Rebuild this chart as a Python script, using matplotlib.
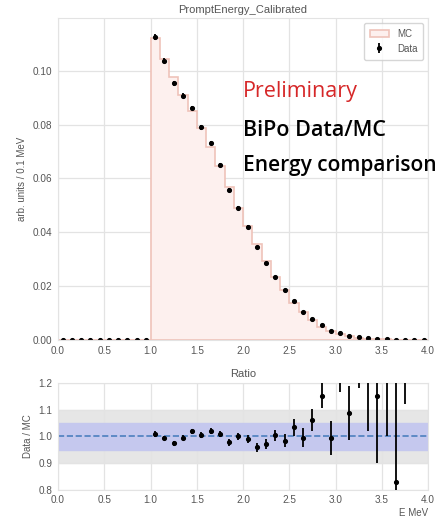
import numpy as np
import matplotlib
matplotlib.use("Agg")
import matplotlib.pyplot as plt

plt.rcParams['font.family'] = ['Liberation Sans', 'DejaVu Sans']

# 0.1 MeV bins from 0 to 4 MeV
edges = np.round(np.arange(0, 4.01, 0.1), 2)
centers = edges[:-1] + 0.05

# MC (normalised), zero below 1 MeV
mc = [0.0] * 10 + [
    0.1120, 0.1045, 0.0978, 0.0910, 0.0850, 0.0787, 0.0716, 0.0645, 0.0568, 0.0491,
    0.0425, 0.0358, 0.0294, 0.0233, 0.0187, 0.0138, 0.0102, 0.0073, 0.0049, 0.0033,
    0.0021, 0.0013, 0.0008, 0.0005, 0.0003, 0.0002, 0.0001, 0.00005, 0.0, 0.0]

data = [0.0] * 10 + [
    0.1124, 0.1037, 0.0953, 0.0907, 0.0862, 0.0790, 0.0731, 0.0651, 0.0556, 0.0491,
    0.0421, 0.0344, 0.0285, 0.0234, 0.0184, 0.0143, 0.0102, 0.0078, 0.0056, 0.0033,
    0.0026, 0.0014, 0.0010, 0.0006, 0.0003, 0.0003, 0.0001, 0.0001, 0.0, 0.0]

ratio = [np.nan] * 10 + [
    1.009, 0.994, 0.975, 0.996, 1.019, 1.004, 1.021, 1.010, 0.978, 1.000,
    0.991, 0.960, 0.971, 1.004, 0.984, 1.034, 0.996, 1.062, 1.152, 0.994,
    1.250, 1.088, 1.300, 1.250, 1.152, 1.400, 0.831, 2.000, np.nan, np.nan]

ratio_err = [0.0] * 10 + [
    0.010, 0.009, 0.009, 0.010, 0.010, 0.011, 0.011, 0.012, 0.012, 0.013,
    0.014, 0.017, 0.018, 0.022, 0.025, 0.031, 0.037, 0.040, 0.047, 0.065,
    0.085, 0.100, 0.120, 0.230, 0.250, 0.400, 0.500, 0.880, 0.0, 0.0]

data_err = np.array(ratio_err) * np.array(mc)

grid_c = '#e3e3e3'
tick_c = '#555555'

fig = plt.figure(figsize=(4.46, 5.19), dpi=100)
ax = fig.add_axes([0.130, 0.345, 0.830, 0.620])
axr = fig.add_axes([0.130, 0.056, 0.830, 0.206])

for a in (ax, axr):
    a.set_axisbelow(True)
    a.grid(True, color=grid_c, lw=0.9)
    for s in a.spines.values():
        s.set_color(grid_c)
    a.tick_params(length=0, labelsize=7.2, labelcolor=tick_c, pad=4)
    a.set_xlim(0, 4)
    a.set_xticks(np.arange(0, 4.01, 0.5))

# top panel
ax.hist(centers, bins=edges, weights=mc, histtype='stepfilled',
        facecolor='#fdf0ee', edgecolor='#efc3ba', lw=1.2, label='MC')
ax.errorbar(centers, data, yerr=data_err, fmt='o', color='k', ms=2.7,
            elinewidth=1.3, label='Data')
ax.set_ylim(0, 0.1195)
ax.set_yticks(np.arange(0, 0.101, 0.02))
ax.yaxis.set_major_formatter(matplotlib.ticker.FormatStrFormatter('%.2f'))
ax.set_ylabel('arb. units / 0.1 MeV', fontsize=7, color=tick_c)
ax.set_title('PromptEnergy_Calibrated', fontsize=8, color=tick_c, pad=4)
leg = ax.legend(loc='upper right', fontsize=7, frameon=True, borderpad=0.6)
leg.get_frame().set_edgecolor('#cccccc')
for t in leg.get_texts():
    t.set_color(tick_c)

fig.text(0.545, 0.823, 'Preliminary', color='#d62728', fontsize=15.5,
         family='Open Sans', va='center')
fig.text(0.545, 0.748, 'BiPo Data/MC', color='black', fontsize=15.5,
         family='Open Sans', fontweight='semibold', va='center')
fig.text(0.545, 0.682, 'Energy comparison', color='black', fontsize=15,
         family='Open Sans', fontweight='semibold', va='center')

# ratio panel
axr.axhspan(0.9, 1.1, color='#e6e6e6', zorder=0.5)
axr.axhspan(0.95, 1.05, color='#c5c8ee', zorder=0.6)
axr.axhline(1.0, color='#4c7fbf', ls='--', lw=1.2, zorder=1)
axr.errorbar(centers, ratio, yerr=ratio_err, fmt='o', color='k', ms=2.7,
             elinewidth=1.3, zorder=3)
axr.set_ylim(0.8, 1.2)
axr.set_yticks([0.8, 0.9, 1.0, 1.1, 1.2])
axr.set_ylabel('Data / MC', fontsize=7, color=tick_c)
axr.set_title('Ratio', fontsize=8, color=tick_c, pad=4)
axr.set_xlabel('E MeV', fontsize=7, color=tick_c, loc='right', labelpad=2)

fig.savefig('out.png', dpi=100)
